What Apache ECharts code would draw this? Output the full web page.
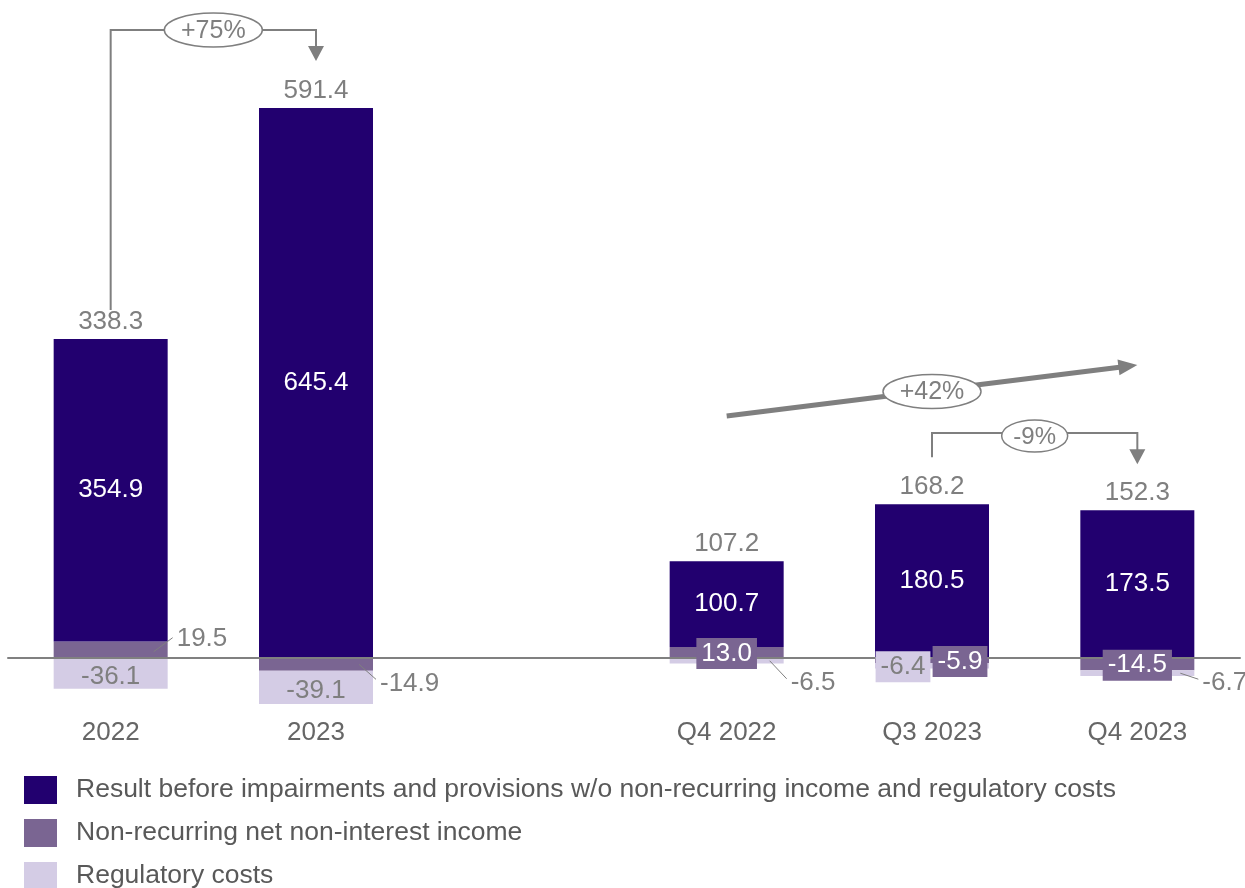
<!DOCTYPE html>
<html>
<head>
<meta charset="utf-8">
<script src="https://cdn.jsdelivr.net/npm/echarts@6/dist/echarts.min.js"></script>
<style>
  html, body { margin: 0; padding: 0; background: #fff; }
  #chart { width: 1245px; height: 888px; }
</style>
</head>
<body>
<div id="chart"></div>
<script>
var categories = ['2022', '2023', '', 'Q4 2022', 'Q3 2023', 'Q4 2023']
var result = [354.9, 645.4, null, 100.7, 180.5, 173.5]
var nonRecurring = [19.5, -14.9, null, 13.0, -5.9, -14.5]
var regulatory = [-36.1, -39.1, null, -6.5, -6.4, -6.7]
var totals = [338.3, 591.4, null, 107.2, 168.2, 152.3]
var seriesNames = [
  'Result before impairments and provisions w/o non-recurring income and regulatory costs',
  'Non-recurring net non-interest income',
  'Regulatory costs'
]
var changes = ['+75%', '+42%', '-9%']

var font = "'Liberation Sans', Arial, sans-serif"
var grey = '#7F7F7F'
var colors = ['#22006F', '#7A6592', '#D4CCE5']
var barWidth = 114
var fontSize = 26

// top of the positive stack (where the total label sits)
var positiveTop = result.map(function (v, i) {
  if (v == null) return null
  return v + Math.max(nonRecurring[i], 0)
})

// label placement per data index: outside (with leader), inside, or boxed
var nonRecLabels = {
  0: { outside: true, offset: [4, -11] },
  1: { outside: true, offset: [2, 19] },
  3: { box: true, offset: [0, 1] },
  4: { box: true, offset: [28, 1] },
  5: { box: true, offset: [0, 1] }
}
var regLabels = {
  0: { inside: true, offset: [0, 3] },
  1: { inside: true, offset: [0, 3] },
  3: { outside: true, offset: [2, 22] },
  4: { box: true, offset: [-29, 1] },
  5: { outside: true, offset: [3, 10] }
}

function fmt(p) { return Number(p.value).toFixed(1) }

// stacked segment ranges
function nonRecRange(i) { return [0, nonRecurring[i]] }
function regRange(i) {
  var start = nonRecurring[i] < 0 ? nonRecurring[i] : 0
  return [start, start + regulatory[i]]
}

function buildData(values, specs) {
  return values.map(function (v, i) {
    if (v == null) return null
    var spec = specs[i]
    if (spec.outside) {
      return { value: v, label: { show: true, position: 'right', distance: 5, offset: spec.offset, color: grey } }
    }
    if (spec.box) {
      return { value: v, label: { show: false } }
    }
    return { value: v, label: { show: true, position: 'inside', offset: spec.offset, color: grey } }
  })
}

// boxed labels sit above the axis line, so they go into their own layer
var boxData = []
function addBoxes(values, specs, range, bg, textColor) {
  Object.keys(specs).forEach(function (k) {
    var i = +k, spec = specs[k]
    if (!spec.box) return
    var r = range(i)
    boxData.push({
      value: [i, (r[0] + r[1]) / 2, values[i]],
      label: { offset: spec.offset, backgroundColor: bg, color: textColor }
    })
  })
}
addBoxes(nonRecurring, nonRecLabels, nonRecRange, colors[1], '#ffffff')
addBoxes(regulatory, regLabels, regRange, colors[2], grey)

var labelBase = { fontFamily: font, fontSize: fontSize, formatter: fmt }

var option = {
  animation: false,
  textStyle: { fontFamily: font },
  grid: { left: 8, right: 5, top: 61.6, bottom: 144.8, containLabel: false },
  legend: {
    data: seriesNames,
    orient: 'vertical',
    left: 24,
    top: 776,
    height: 140,
    padding: 0,
    itemWidth: 33,
    itemHeight: 28,
    itemGap: 15,
    icon: 'rect',
    selectedMode: false,
    textStyle: { fontFamily: font, fontSize: 26.5, color: '#595959', padding: [0, 0, 0, 14] }
  },
  xAxis: {
    type: 'category',
    data: categories,
    axisTick: { show: false },
    axisLine: { lineStyle: { color: '#808080', width: 2 } },
    axisLabel: { fontFamily: font, fontSize: fontSize, color: '#666666', margin: -23 },
    z: 3
  },
  yAxis: {
    type: 'value',
    min: -100,
    max: 700,
    show: false,
    splitLine: { show: false }
  },
  series: [
    {
      name: seriesNames[1],
      type: 'bar',
      stack: 'a',
      barWidth: barWidth,
      itemStyle: { color: colors[1] },
      label: labelBase,
      data: buildData(nonRecurring, nonRecLabels),
      z: 2
    },
    {
      name: seriesNames[0],
      type: 'bar',
      stack: 'a',
      barWidth: barWidth,
      itemStyle: { color: colors[0] },
      label: { show: true, position: 'inside', color: '#ffffff', fontFamily: font, fontSize: fontSize, formatter: fmt },
      data: result,
      z: 2
    },
    {
      name: seriesNames[2],
      type: 'bar',
      stack: 'a',
      barWidth: barWidth,
      itemStyle: { color: colors[2] },
      label: labelBase,
      data: buildData(regulatory, regLabels),
      z: 2
    },
    {
      name: 'Boxes',
      type: 'scatter',
      symbolSize: 0,
      silent: true,
      itemStyle: { opacity: 1 },
      data: boxData,
      label: {
        show: true,
        position: 'inside',
        fontFamily: font,
        fontSize: fontSize,
        padding: [3, 5, 2, 5],
        formatter: function (p) { return Number(p.value[2]).toFixed(1) }
      },
      z: 5
    },
    {
      name: 'Total',
      type: 'scatter',
      symbolSize: 0,
      silent: true,
      itemStyle: { opacity: 1 },
      data: positiveTop,
      label: {
        show: true,
        position: 'top',
        distance: 4,
        color: grey,
        fontFamily: font,
        fontSize: fontSize,
        formatter: function (p) { return totals[p.dataIndex].toFixed(1) }
      },
      z: 5
    }
  ]
}

var chart = echarts.init(document.getElementById('chart'))
chart.setOption(option)

function px(i, v) {
  return chart.convertToPixel({ gridIndex: 0 }, [i, v])
}

var g = []

function poly(points, w) {
  g.push({ type: 'polyline', silent: true, z: 10, shape: { points: points },
    style: { stroke: grey, fill: null, lineWidth: w || 2 } })
}
function head(tip, angle, len, half) {
  var c = Math.cos(angle), s = Math.sin(angle)
  var bx = tip[0] - c * len, by = tip[1] - s * len
  g.push({ type: 'polygon', silent: true, z: 10,
    shape: { points: [tip, [bx - s * half, by + c * half], [bx + s * half, by - c * half]] },
    style: { fill: grey } })
}
function bubble(cx, cy, rx, ry, text, size) {
  g.push({ type: 'ellipse', silent: true, z: 11, shape: { cx: cx, cy: cy, rx: rx, ry: ry },
    style: { fill: '#ffffff', stroke: grey, lineWidth: 1.5 } })
  g.push({ type: 'text', silent: true, z: 12, x: cx, y: cy + 1,
    style: { text: text, fill: grey, font: size + 'px ' + font, align: 'center', verticalAlign: 'middle' } })
}

// +75% bracket 2022 -> 2023
var a0 = px(0, positiveTop[0]), a1 = px(1, positiveTop[1])
var yTop = 30
poly([[a0[0], a0[1] - 29], [a0[0], yTop], [a1[0], yTop], [a1[0], a1[1] - 60]])
head([a1[0], a1[1] - 47], Math.PI / 2, 15, 8)
bubble((a0[0] + a1[0]) / 2, yTop, 49, 17, changes[0], 25)

// +42% trend arrow Q4 2022 -> Q4 2023
var q0 = px(3, 0), q2 = px(5, 0)
var s0 = [q0[0], 416], s1 = [q2[0], 365]
var ang = Math.atan2(s1[1] - s0[1], s1[0] - s0[0])
poly([s0, [s1[0] - Math.cos(ang) * 16, s1[1] - Math.sin(ang) * 16]], 5)
head(s1, ang, 19, 8)
bubble((s0[0] + s1[0]) / 2, (s0[1] + s1[1]) / 2 + 1, 49, 17, changes[1], 25)

// -9% bracket Q3 2023 -> Q4 2023
var b0 = px(4, positiveTop[4]), b1 = px(5, positiveTop[5])
var yB = 433
poly([[b0[0], b0[1] - 47], [b0[0], yB], [b1[0], yB], [b1[0], b1[1] - 58]])
head([b1[0], b1[1] - 46], Math.PI / 2, 15, 8)
bubble((b0[0] + b1[0]) / 2, yB + 3, 33, 16, changes[2], 24)

// leader lines for labels placed to the right of the bars
function leader(i, r, spec) {
  var mid = px(i, (r[0] + r[1]) / 2)
  var right = mid[0] + barWidth / 2
  var lx = right + 5 + spec.offset[0]
  var ly = mid[1] + spec.offset[1]
  var up = spec.offset[1] < 0
  var startY = up ? mid[1] + 2 : Math.max(mid[1], ly - 26)
  poly([[right - 14, startY], [lx - 4, up ? ly - 1 : ly - 4]], 1)
}
Object.keys(nonRecLabels).forEach(function (k) {
  if (nonRecLabels[k].outside) leader(+k, nonRecRange(+k), nonRecLabels[k])
})
Object.keys(regLabels).forEach(function (k) {
  if (regLabels[k].outside) leader(+k, regRange(+k), regLabels[k])
})

chart.setOption({ graphic: g })
</script>
</body>
</html>
